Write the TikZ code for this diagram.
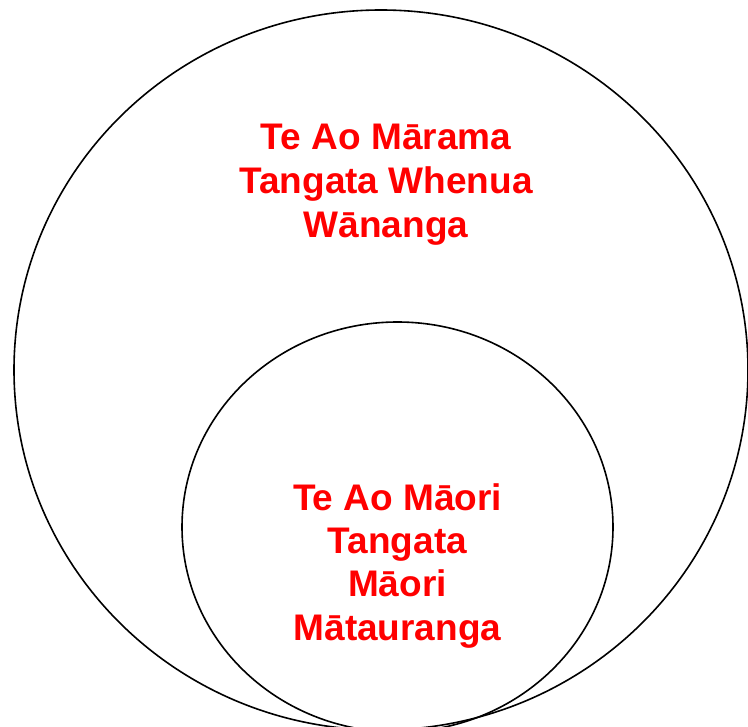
\documentclass[tikz,border=0pt]{standalone}
\usepackage{fontspec}
\setmainfont{Liberation Sans}
\definecolor{txtred}{RGB}{255,0,0}
\begin{document}
\begin{tikzpicture}[x=1pt,y=-1pt,
  ring/.style={draw=black,line width=1.6pt},
  lbl/.style={anchor=base,inner sep=0pt,text=txtred,font=\fontsize{37}{44}\selectfont\bfseries}]
\useasboundingbox (0,0) rectangle (748,727);
\clip (0,0) rectangle (748,727);
\fill[white] (0,0) rectangle (748,727);
\draw[ring] (381,370) ellipse [x radius=367, y radius=360];
\draw[ring] (397.5,527) ellipse [x radius=215.5, y radius=205];
\node[lbl] (a1) at (386,150) {Te Ao Mārama};
\node[lbl] (a2) at (386,194) {Tangata Whenua};
\node[lbl] (a3) at (386,238) {Wānanga};
\node[lbl] (b1) at (397.5,511) {Te Ao Māori};
\node[lbl] (b2) at (397.5,554) {Tangata};
\node[lbl] (b3) at (397.5,597) {Māori};
\node[lbl] (b4) at (397.5,640) {Mātauranga};
\end{tikzpicture}
\end{document}
